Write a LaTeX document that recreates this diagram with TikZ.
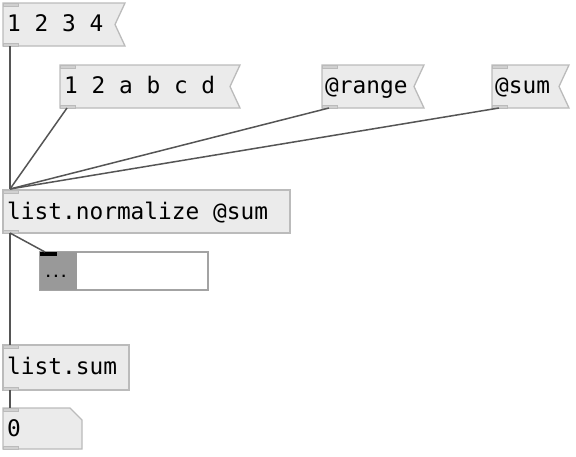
\documentclass[tikz,border=0pt]{standalone}
\usepackage{fontspec}
\setmonofont{DejaVu Sans Mono}
\definecolor{boxfill}{HTML}{EBEBEB}
\definecolor{boxline}{HTML}{BBBBBB}
\definecolor{iolet}{HTML}{D0D0D0}
\definecolor{wire}{HTML}{555555}
\definecolor{slgray}{HTML}{999999}
\tikzset{
  x=1pt,y=-1pt,
  pdbox/.style={fill=boxfill,draw=boxline,line width=1.3pt,line join=miter},
  iol/.style={fill=iolet,draw=boxline,line width=0.8pt},
  pdtext/.style={inner sep=0pt,anchor=base west,font=\ttfamily\fontsize{22.8}{24}\selectfont,text=black},
  conn/.style={draw=wire,line width=1.5pt},
}
\begin{document}
\begin{tikzpicture}
\useasboundingbox (0,0) rectangle (576,456);
% message 1 2 3 4
\draw[pdbox] (3,3) -- (125,3) -- (115,24.5) -- (125,46) -- (3,46) -- cycle;
\draw[iol] (3,3) rectangle (18,6);
\draw[iol] (3,43) rectangle (18,46);
\node[pdtext] (m1) at (7,31) {1 2 3 4};
\coordinate (m1o) at (10,46);
% message 1 2 a b c d
\draw[pdbox] (60,65) -- (240,65) -- (230,86.5) -- (240,108) -- (60,108) -- cycle;
\draw[iol] (60,65) rectangle (75,68);
\draw[iol] (60,105) rectangle (75,108);
\node[pdtext] (m2) at (64,93) {1 2 a b c d};
\coordinate (m2o) at (67,108);
% message @range
\draw[pdbox] (322,65) -- (424,65) -- (414,86.5) -- (424,108) -- (322,108) -- cycle;
\draw[iol] (322,65) rectangle (337,68);
\draw[iol] (322,105) rectangle (337,108);
\node[pdtext] (m3) at (325,93) {@range};
\coordinate (m3o) at (329,108);
% message @sum
\draw[pdbox] (492,65) -- (569,65) -- (559,86.5) -- (569,108) -- (492,108) -- cycle;
\draw[iol] (492,65) rectangle (507,68);
\draw[iol] (492,105) rectangle (507,108);
\node[pdtext] (m4) at (495,93) {@sum};
\coordinate (m4o) at (499,108);
% list.normalize
\draw[pdbox] (3,190) rectangle (290,233);
\draw[iol] (3,190) rectangle (18,193);
\draw[iol] (3,230) rectangle (18,233);
\node[pdtext] (norm) at (7,219) {list.normalize @sum};
\coordinate (normi) at (10,189);
\coordinate (normo) at (10,233);
% slider / list view
\draw[fill=white,draw=slgray!90,line width=1.3pt] (40,252) rectangle (208,290);
\fill[slgray] (40,252) rectangle (77,290);
\fill[black] (40,252) rectangle (57,255.5);
\node[inner sep=0pt,font=\ttfamily\bfseries\fontsize{13}{14}\selectfont,text=black] (dots) at (56,276) {...};
\coordinate (sli) at (45,252);
% list.sum
\draw[pdbox] (3,345) rectangle (129,390);
\draw[iol] (3,345) rectangle (18,348);
\draw[iol] (3,387) rectangle (18,390);
\node[pdtext] (lsum) at (7,374) {list.sum};
\coordinate (sumi) at (10,345);
\coordinate (sumo) at (10,390);
% number box
\draw[pdbox] (3,408) -- (70,408) -- (82,420) -- (82,449) -- (3,449) -- cycle;
\draw[iol] (3,408) rectangle (18,411);
\draw[iol] (3,446) rectangle (18,449);
\node[pdtext] (num) at (7,436) {0};
\coordinate (numi) at (10,408);
% connections
\draw[conn] (m1o) -- (normi);
\draw[conn] (m2o) -- (normi);
\draw[conn] (m3o) -- (normi);
\draw[conn] (m4o) -- (normi);
\draw[conn] (normo) -- (sumi);
\draw[conn] (normo) -- (sli);
\draw[conn] (sumo) -- (numi);
\end{tikzpicture}
\end{document}
